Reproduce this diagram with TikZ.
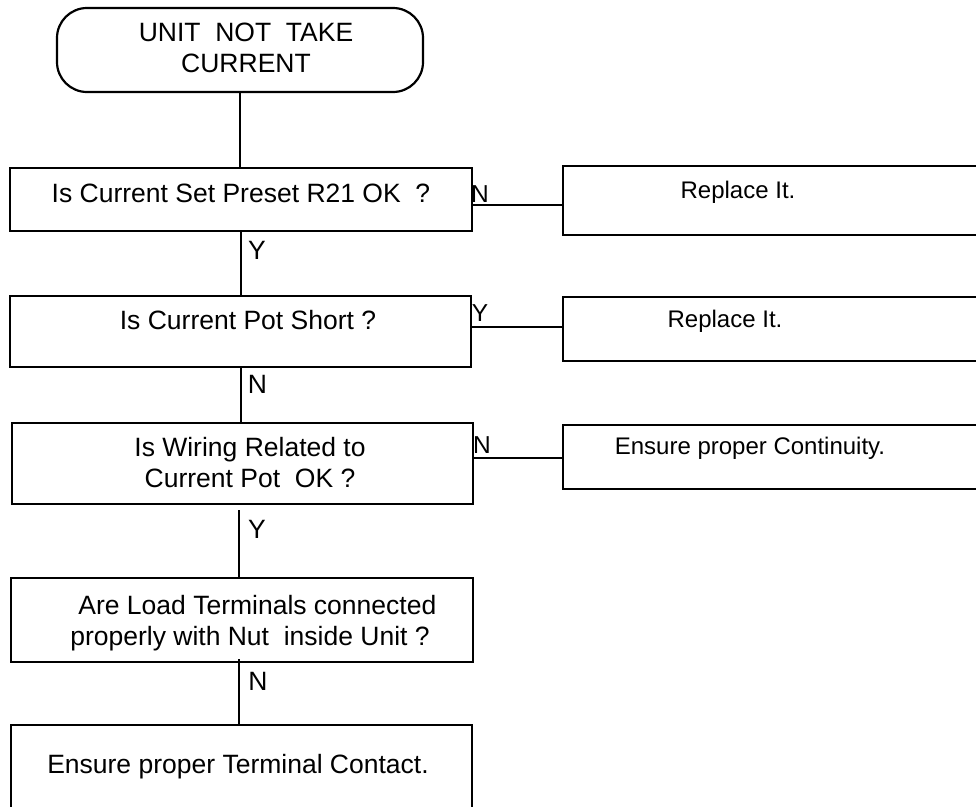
\documentclass[tikz,border=0pt]{standalone}
\usepackage{fontspec}
\setmainfont{Liberation Sans}
\begin{document}
\begin{tikzpicture}[x=1pt,y=-1pt,
  box/.style={draw,line width=2.2pt,rectangle,inner sep=0pt},
  txt/.style={inner sep=0pt,align=center,font=\fontsize{26.5}{31}\selectfont},
  rtxt/.style={inner sep=0pt,align=center,font=\fontsize{24}{31}\selectfont},
  lbl/.style={inner sep=0pt,font=\fontsize{26.5}{31}\selectfont},
  rlbl/.style={inner sep=0pt,font=\fontsize{24.5}{31}\selectfont},
  conn/.style={line width=2.6pt}]
\useasboundingbox (0,0) rectangle (976,806);
\clip (0,0) rectangle (976,806);
% start terminal
\node[box,rounded corners=30pt,minimum width=366pt,minimum height=84pt] (start) at (240,50) {};
\node[txt] (tstart) at (246,48) {UNIT\ \ NOT\ \ TAKE\\CURRENT};
% main column boxes
\node[box,minimum width=462pt,minimum height=63pt] (b1) at (241,199.5) {};
\node[txt] (t1) at (241,193) {Is Current Set Preset R21 OK\ \ ?};
\node[box,minimum width=461pt,minimum height=71pt] (b2) at (240.5,331.5) {};
\node[txt] (t2) at (248,320) {Is Current Pot Short ?};
\node[box,minimum width=461pt,minimum height=81pt] (b3) at (242.5,463.5) {};
\node[txt] (t3) at (250,463) {Is Wiring Related to\\Current Pot\ \ OK ?};
\node[box,minimum width=462pt,minimum height=84pt] (b4) at (242,620) {};
\node[txt] (t4) at (250,623) {\ \ Are Load Terminals connected\\properly with Nut\ \ inside Unit ?};
\node[box,minimum width=461pt,minimum height=105pt] (b5) at (241.5,777.5) {};
\node[txt] (t5) at (238,767) {Ensure proper Terminal Contact.};
% right boxes (run past the right edge)
\node[box,minimum width=437pt,minimum height=69pt] (r1) at (781.5,200.5) {};
\node[rtxt] (tr1) at (738,192) {Replace It.};
\node[box,minimum width=437pt,minimum height=64pt] (r2) at (781.5,329) {};
\node[rtxt] (tr2) at (725,321) {Replace It.};
\node[box,minimum width=437pt,minimum height=64pt] (r3) at (781.5,457) {};
\node[rtxt] (tr3) at (750,448) {Ensure proper Continuity.};
% vertical connectors
\draw[conn] (start.south) -- (b1.north -| start.south);
\draw[conn] (b1.south) -- (b2.north -| b1.south);
\draw[conn] ([xshift=0.5pt]b2.south) -- ([xshift=0.5pt]b3.north -| b2.south);
\draw[conn] ([xshift=-3.5pt,yshift=-5pt]b3.south) -- ([xshift=-3.5pt]b4.north -| b3.south);
\draw[conn] ([xshift=-3pt,yshift=4pt]b4.south) -- ([xshift=-3pt]b5.north -| b4.south);
% horizontal connectors
\draw[conn] ([yshift=-5.5pt]b1.east) -- ([yshift=-5.5pt]b1.east -| r1.west);
\draw[conn] ([yshift=4.5pt]b2.east) -- ([yshift=4.5pt]b2.east -| r2.west);
\draw[conn] ([yshift=5.5pt]b3.east) -- ([yshift=5.5pt]b3.east -| r3.west);
% labels
\node[lbl] (l1) at (257,250) {Y};
\node[lbl] (l2) at (257.5,384.5) {N};
\node[lbl] (l3) at (257,529) {Y};
\node[lbl] (l4) at (258,681) {N};
\node[rlbl] (lr1) at (480,194) {N};
\node[rlbl] (lr2) at (480,313) {Y};
\node[rlbl] (lr3) at (482,445) {N};
\end{tikzpicture}
\end{document}
